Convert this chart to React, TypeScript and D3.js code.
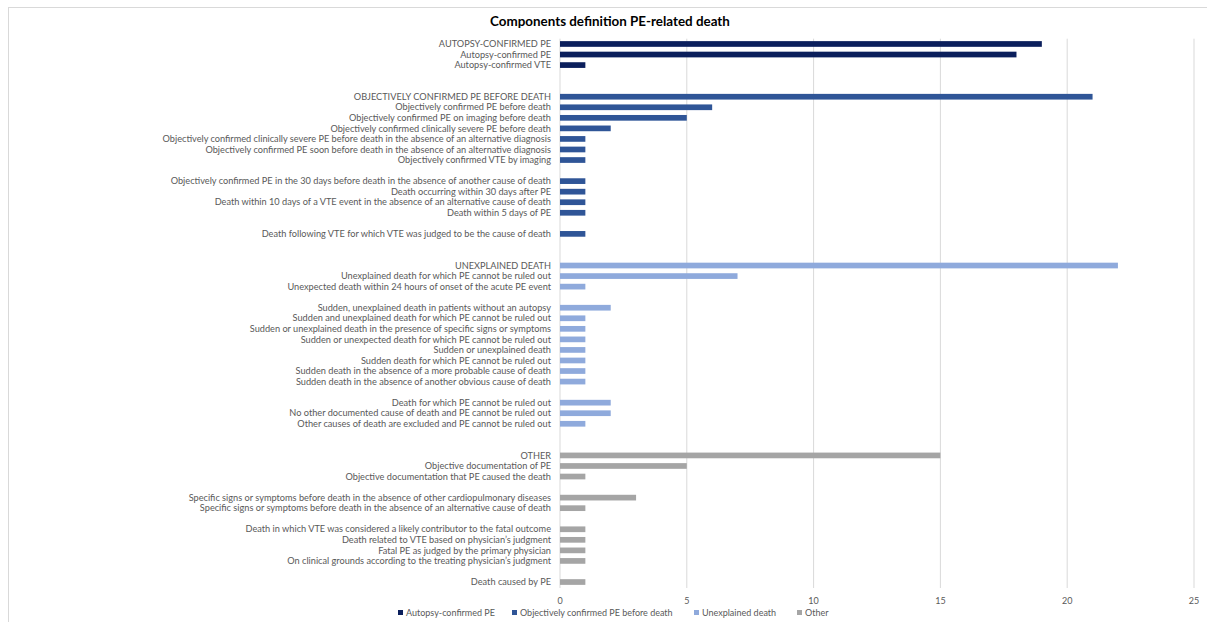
import React from "react";
import * as d3 from "d3";

const categories: string[] = [
  "AUTOPSY-CONFIRMED PE",
  "Autopsy-confirmed PE",
  "Autopsy-confirmed VTE",
  "",
  "",
  "OBJECTIVELY CONFIRMED PE BEFORE DEATH",
  "Objectively confirmed PE before death",
  "Objectively confirmed PE on imaging before death",
  "Objectively confirmed clinically severe PE before death",
  "Objectively confirmed clinically severe PE before death in the absence of an alternative diagnosis",
  "Objectively confirmed PE soon before death in the absence of an alternative diagnosis",
  "Objectively confirmed VTE by imaging",
  "",
  "Objectively confirmed PE in the 30 days before death in the absence of another cause of death",
  "Death occurring within 30 days after PE",
  "Death within 10 days of a VTE event in the absence of an alternative cause of death",
  "Death within 5 days of PE",
  "",
  "Death following VTE for which VTE was judged to be the cause of death",
  "",
  "",
  "UNEXPLAINED DEATH",
  "Unexplained death for which PE cannot be ruled out",
  "Unexpected death within 24 hours of onset of the acute PE event",
  "",
  "Sudden, unexplained death in patients without an autopsy",
  "Sudden and unexplained death for which PE cannot be ruled out",
  "Sudden or unexplained death in the presence of specific signs or symptoms",
  "Sudden or unexpected death for which PE cannot be ruled out",
  "Sudden or unexplained death",
  "Sudden death for which PE cannot be ruled out",
  "Sudden death in the absence of a more probable cause of death",
  "Sudden death in the absence of another obvious cause of death",
  "",
  "Death for which PE cannot be ruled out",
  "No other documented cause of death and PE cannot be ruled out",
  "Other causes of death are excluded and PE cannot be ruled out",
  "",
  "",
  "OTHER",
  "Objective documentation of PE",
  "Objective documentation that PE caused the death",
  "",
  "Specific signs or symptoms before death in the absence of other cardiopulmonary diseases",
  "Specific signs or symptoms before death in the absence of an alternative cause of death",
  "",
  "Death in which VTE was considered a likely contributor to the fatal outcome",
  "Death related to VTE based on physician\u2019s judgment",
  "Fatal PE as judged by the primary physician",
  "On clinical grounds according to the treating physician\u2019s judgment",
  "",
  "Death caused by PE",
];

const _ = null;
// values per row, aligned with categories
const autopsyConfirmed: (number | null)[] = [19, 18, 1, _, _, _, _, _, _, _, _, _, _, _, _, _, _, _, _, _, _, _, _, _, _, _, _, _, _, _, _, _, _, _, _, _, _, _, _, _, _, _, _, _, _, _, _, _, _, _, _, _];
const objectivelyConfirmed: (number | null)[] = [_, _, _, _, _, 21, 6, 5, 2, 1, 1, 1, _, 1, 1, 1, 1, _, 1, _, _, _, _, _, _, _, _, _, _, _, _, _, _, _, _, _, _, _, _, _, _, _, _, _, _, _, _, _, _, _, _, _];
const unexplainedDeath: (number | null)[] = [_, _, _, _, _, _, _, _, _, _, _, _, _, _, _, _, _, _, _, _, _, 22, 7, 1, _, 2, 1, 1, 1, 1, 1, 1, 1, _, 2, 2, 1, _, _, _, _, _, _, _, _, _, _, _, _, _, _, _];
const other: (number | null)[] = [_, _, _, _, _, _, _, _, _, _, _, _, _, _, _, _, _, _, _, _, _, _, _, _, _, _, _, _, _, _, _, _, _, _, _, _, _, _, _, 15, 5, 1, _, 3, 1, _, 1, 1, 1, 1, _, 1];

const seriesNames = ["Autopsy-confirmed PE", "Objectively confirmed PE before death", "Unexplained death", "Other"];
const seriesValues = [autopsyConfirmed, objectivelyConfirmed, unexplainedDeath, other];
const seriesColors = ["#0B1F5C", "#2F5597", "#8FAADC", "#A5A5A5"];
const xTicks = [0, 5, 10, 15, 20, 25];

const W = 1207;
const H = 622;
const FONT = "Lato, 'Open Sans', sans-serif";

export default function App() {
  const x = d3.scaleLinear().domain([0, 25]).range([560, 1194]);
  const y = d3
    .scaleBand<string>()
    .domain(categories.map((_c, i) => String(i)))
    .range([38.7, 587.3])
    .paddingInner(0.46)
    .paddingOuter(0.23);

  const legendX = [398, 512, 694, 797];

  return (
    <svg
      width={W}
      height={H}
      style={{ position: "absolute", left: 0, top: 0, background: "#fff" }}
      fontFamily={FONT}
    >
      <rect x={8.5} y={7.5} width={W + 20} height={H + 20} fill="#fff" stroke="#D9D9D9" />
      <text x={610} y={26} textAnchor="middle" fontSize={13.4} fontWeight={700} fill="#000">
        Components definition PE-related death
      </text>
      {xTicks.map((t) => (
        <g key={t}>
          <line x1={x(t)} x2={x(t)} y1={38.7} y2={588} stroke="#D9D9D9" strokeWidth={1} />
          <text x={x(t)} y={604} textAnchor="middle" fontSize={9} fill="#595959">
            {t}
          </text>
        </g>
      ))}
      {categories.map((c, i) =>
        c ? (
          <text
            key={i}
            x={551}
            y={(y(String(i)) as number) + y.bandwidth() / 2}
            dy="0.35em"
            textAnchor="end"
            fontSize={9.2}
            fill="#595959"
          >
            {c}
          </text>
        ) : null
      )}
      {seriesValues.map((vals, s) =>
        vals.map((v, i) =>
          v == null ? null : (
            <rect
              key={`${s}-${i}`}
              x={x(0)}
              y={y(String(i)) as number}
              width={x(v) - x(0)}
              height={y.bandwidth()}
              fill={seriesColors[s]}
            />
          )
        )
      )}
      {seriesNames.map((n, s) => (
        <g key={n} transform={`translate(${legendX[s]},613)`}>
          <rect x={0} y={-3} width={5} height={5} fill={seriesColors[s]} />
          <text x={8} y={0} dy="0.35em" fontSize={9} fill="#595959">
            {n}
          </text>
        </g>
      ))}
    </svg>
  );
}
